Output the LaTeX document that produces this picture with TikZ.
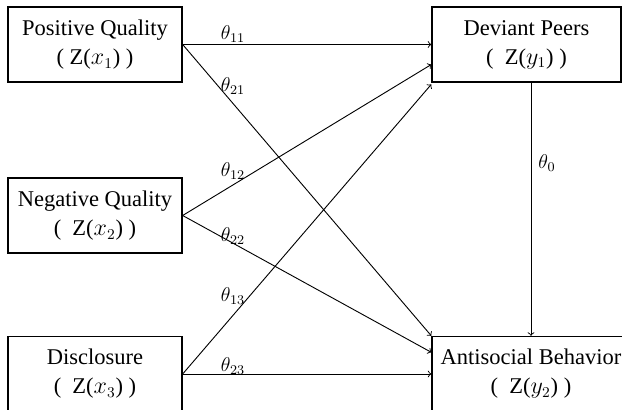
\documentclass[tikz,border=0pt]{standalone}
\usepackage{fontspec}
\setmainfont{Liberation Serif}
\begin{document}
\begin{tikzpicture}[x=0.6pt,y=-0.6pt,
		varbox/.style={rectangle,draw,line width=0.8pt,inner sep=0pt,align=center,
			minimum height=45pt,font=\fontsize{13.5}{17.4}\selectfont},
		path/.style={->,line width=0.55pt},
		coef/.style={inner sep=0pt,font=\fontsize{12}{14}\selectfont}]
	\useasboundingbox (0,0) rectangle (622,410);

	\node (pq) [varbox,minimum width=104.4pt] at (95,44.5) {Positive Quality\\( Z($x_1$) )};
	\node (nq) [varbox,minimum width=104.4pt] at (95,215.5) {Negative Quality\\(\enspace Z($x_2$) )};
	\node (dc) [varbox,minimum width=104.4pt] at (95,374) {Disclosure\\(\enspace Z($x_3$) )};
	\node (dp) [varbox,minimum width=113.4pt] at (526.5,44.5) {Deviant Peers\\(\enspace Z($y_1$) )};
	\node (ab) [varbox,minimum width=118.8pt] at (531,374) {Antisocial Behavior\\(\enspace Z($y_2$) )};

	\draw[path] (pq.east) -- (dp.west);
	\draw[path] (pq.east) -- (ab.north west);
	\draw[path] (nq.east) -- ([yshift=-12pt]dp.west);
	\draw[path] (nq.east) -- ([yshift=13pt]ab.west);
	\draw[path] (dc.east) -- ([yshift=-1pt]dp.south west);
	\draw[path] (dc.east) -- (ab.west);
	\draw[path] (ab.north |- dp.south) -- (ab.north);

	\node (t11) [coef] at (233,34) {$\theta_{11}$};
	\node (t21) [coef] at (233,86) {$\theta_{21}$};
	\node (t12) [coef] at (233,171) {$\theta_{12}$};
	\node (t22) [coef] at (233,236) {$\theta_{22}$};
	\node (t13) [coef] at (233,296) {$\theta_{13}$};
	\node (t23) [coef] at (233,366) {$\theta_{23}$};
	\node (t0) [coef] at (547,163) {$\theta_{0}$};

\end{tikzpicture}
\end{document}
